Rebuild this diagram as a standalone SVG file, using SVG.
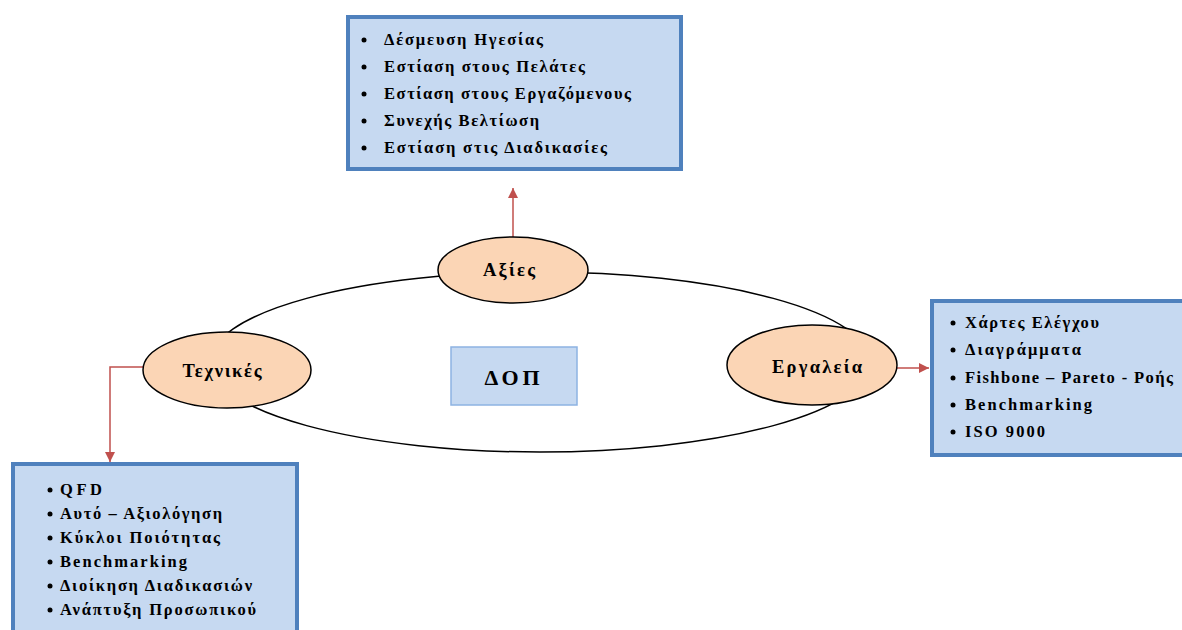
<svg xmlns="http://www.w3.org/2000/svg" width="1182" height="630" viewBox="0 0 1182 630">
<defs>
<marker id="ah" viewBox="0 0 10 10" refX="10" refY="5" markerWidth="10" markerHeight="10" markerUnits="userSpaceOnUse" orient="auto"><path d="M0,0 L10,5 L0,10 z" fill="#c0504d"/></marker>
<style>
.box{fill:#c6d9f1;stroke:#4f81bd;stroke-width:4}
.node{fill:#fbd5b5;stroke:#000;stroke-width:1.5}
.t{font-family:"Liberation Serif","DejaVu Serif",serif;font-weight:bold;font-size:16.5px;fill:#000}
.lbl{font-family:"Liberation Serif","DejaVu Serif",serif;font-weight:bold;font-size:18.5px;fill:#000;text-anchor:middle}
.b{fill:#000}
.conn{stroke:#c0504d;stroke-width:1.5;fill:none}
</style>
</defs>
<rect width="1182" height="630" fill="#fff"/>
<ellipse cx="540" cy="362" rx="330" ry="90" fill="none" stroke="#000" stroke-width="1.5"/>
<g id="connectors">
<path class="conn" d="M513,237 L513,188" marker-end="url(#ah)"/>
<path class="conn" d="M897,368 L929,368" marker-end="url(#ah)"/>
<path class="conn" d="M143,367 L110,367 L110,462" marker-end="url(#ah)"/>
</g>
<g id="values-box">
<rect class="box" x="348" y="17" width="333" height="152"/>
<circle class="b" cx="364" cy="40" r="2.5"/><text class="t" x="384" y="45" textLength="159" lengthAdjust="spacing">Δέσμευση Ηγεσίας</text>
<circle class="b" cx="364" cy="67" r="2.5"/><text class="t" x="384" y="72" textLength="201" lengthAdjust="spacing">Εστίαση στους Πελάτες</text>
<circle class="b" cx="364" cy="94" r="2.5"/><text class="t" x="384" y="99" textLength="247" lengthAdjust="spacing">Εστίαση στους Εργαζόμενους</text>
<circle class="b" cx="364" cy="121" r="2.5"/><text class="t" x="384" y="126" textLength="155" lengthAdjust="spacing">Συνεχής Βελτίωση</text>
<circle class="b" cx="364" cy="148" r="2.5"/><text class="t" x="384" y="153" textLength="223" lengthAdjust="spacing">Εστίαση στις Διαδικασίες</text>
</g>
<g id="tools-box">
<rect class="box" x="932" y="301" width="256" height="154"/>
<circle class="b" cx="953" cy="323" r="2.5"/><text class="t" x="965" y="328" textLength="134" lengthAdjust="spacing">Χάρτες Ελέγχου</text>
<circle class="b" cx="953" cy="350" r="2.5"/><text class="t" x="965" y="355" textLength="116" lengthAdjust="spacing">Διαγράμματα</text>
<circle class="b" cx="953" cy="378" r="2.5"/><text class="t" x="965" y="383" textLength="208" lengthAdjust="spacing">Fishbone – Pareto - Ροής</text>
<circle class="b" cx="953" cy="405" r="2.5"/><text class="t" x="965" y="410" textLength="127" lengthAdjust="spacing">Benchmarking</text>
<circle class="b" cx="953" cy="432" r="2.5"/><text class="t" x="965" y="437" textLength="80" lengthAdjust="spacing">ISO 9000</text>
</g>
<g id="techniques-box">
<rect class="box" x="13" y="464" width="284" height="175"/>
<circle class="b" cx="50" cy="490" r="2.5"/><text class="t" x="60" y="495" textLength="42" lengthAdjust="spacing">QFD</text>
<circle class="b" cx="50" cy="514" r="2.5"/><text class="t" x="60" y="519" textLength="162" lengthAdjust="spacing">Αυτό – Αξιολόγηση</text>
<circle class="b" cx="50" cy="538" r="2.5"/><text class="t" x="60" y="543" textLength="160" lengthAdjust="spacing">Κύκλοι Ποιότητας</text>
<circle class="b" cx="50" cy="562" r="2.5"/><text class="t" x="60" y="567" textLength="127" lengthAdjust="spacing">Benchmarking</text>
<circle class="b" cx="50" cy="586" r="2.5"/><text class="t" x="60" y="591" textLength="192" lengthAdjust="spacing">Διοίκηση Διαδικασιών</text>
<circle class="b" cx="50" cy="610" r="2.5"/><text class="t" x="60" y="615" textLength="196" lengthAdjust="spacing">Ανάπτυξη Προσωπικού</text>
</g>
<g id="node-values">
<ellipse class="node" cx="513" cy="270" rx="75" ry="33"/>
<text class="lbl" x="509" y="276" textLength="52" lengthAdjust="spacing">Αξίες</text>
</g>
<g id="node-techniques">
<ellipse class="node" cx="227" cy="370" rx="84" ry="38"/>
<text class="lbl" x="222" y="377" textLength="79" lengthAdjust="spacing">Τεχνικές</text>
</g>
<g id="node-tools">
<ellipse class="node" cx="812" cy="365" rx="85" ry="40"/>
<text class="lbl" x="817" y="373" textLength="90" lengthAdjust="spacing">Εργαλεία</text>
</g>
<g id="node-center">
<rect x="451" y="347" width="126" height="58" fill="#c6d9f1" stroke="#8db3e2" stroke-width="1.5"/>
<text class="lbl" x="512" y="385" style="font-size:22px" textLength="55" lengthAdjust="spacing">ΔΟΠ</text>
</g>
</svg>
